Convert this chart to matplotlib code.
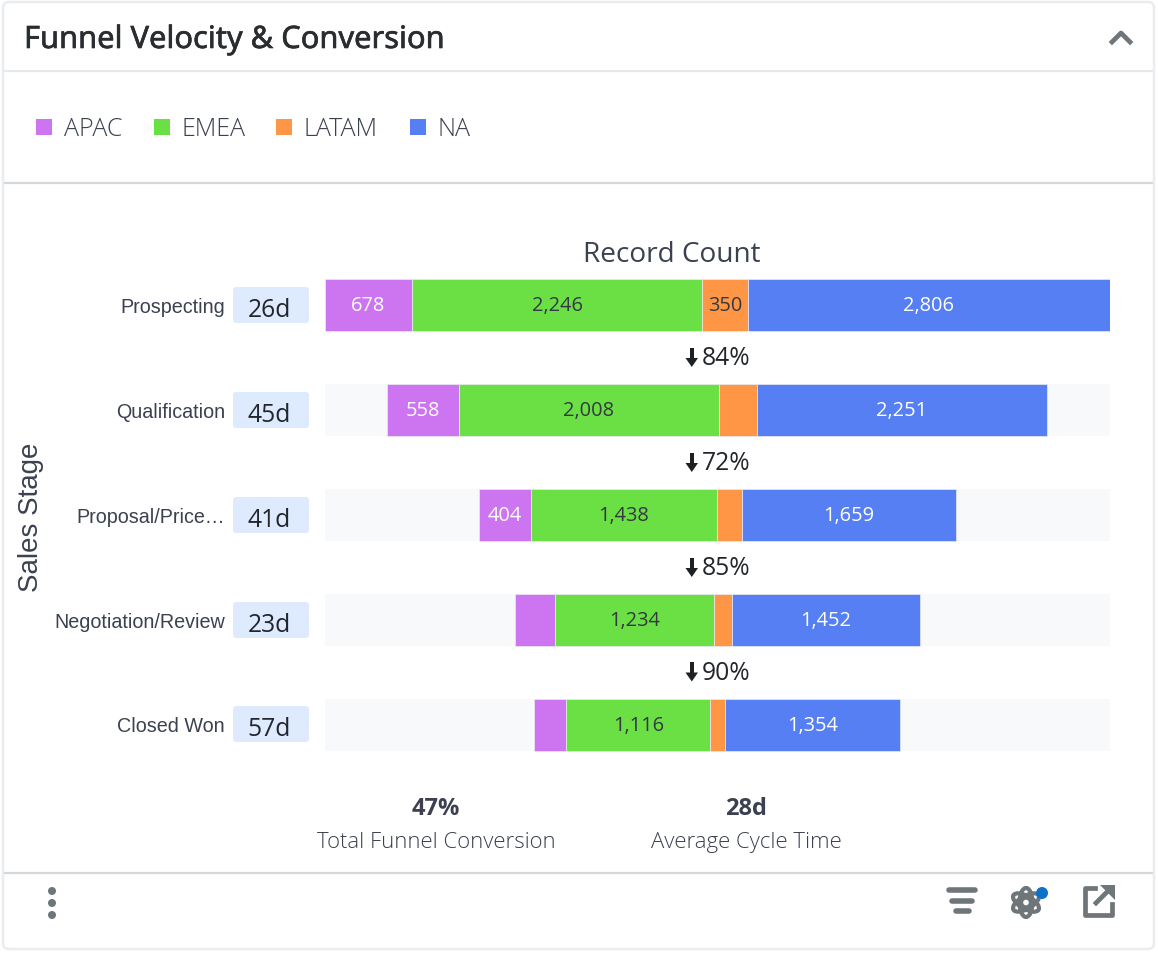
import matplotlib
matplotlib.use('Agg')
import matplotlib.pyplot as plt
import matplotlib.patheffects as pe
from matplotlib.patches import Rectangle, FancyBboxPatch, Circle, Ellipse, Polygon

# data
stages = ['Prospecting', 'Qualification', 'Proposal/Price…', 'Negotiation/Review', 'Closed Won']
days = ['26d', '45d', '41d', '23d', '57d']
conversion = ['84%', '72%', '85%', '90%']
regions = ['APAC', 'EMEA', 'LATAM', 'NA']
apac = [678, 558, 404, 310, 248]
emea = [2246, 2008, 1438, 1234, 1116]
latam = [350, 294, 194, 141, 116]
na = [2806, 2251, 1659, 1452, 1354]
total_conversion = '47%'
avg_cycle = '28d'

colors = ['#cd75f0', '#6be045', '#ff9645', '#557ff3']
label_colors = ['white', '#343941', '#343941', 'white']
GREY = '#6f7679'
DARK = '#3b4150'
W, H = 1158, 954
SANS = 'Open Sans'
min_labelled = 350

fig = plt.figure(figsize=(W / 100, H / 100), dpi=100, facecolor='white')

# full size axes in pixels for the card around the chart
bg = fig.add_axes([0, 0, 1, 1])
bg.set_xlim(0, W)
bg.set_ylim(H, 0)
bg.axis('off')


def hline(y, color='#d5d7d9', lw=1.6):
    bg.plot([4, 1153], [y + 0.5, y + 0.5], color=color, lw=lw, solid_capstyle='butt')


bg.add_patch(FancyBboxPatch((3, 3), 1151, 947, boxstyle='round,pad=0,rounding_size=6',
                            fc='white', ec='#e9edf0', lw=1.8))
hline(71, '#e6eaec')
hline(183)
hline(873)

bg.text(24, 41, 'Funnel Velocity & Conversion', fontsize=22.2, family='Noto Sans',
        color='#2a2d30', va='center',
        path_effects=[pe.withStroke(linewidth=0.45, foreground='#2a2d30')])
bg.plot([1112, 1121, 1130], [43, 34, 43], color=GREY, lw=3.4)

# legend
swatch_x = [36, 154, 276, 410]
for name, c, x in zip(regions, colors, swatch_x):
    bg.add_patch(Rectangle((x, 120), 16, 16, fc=c, ec='none'))
    bg.text(x + 28, 130, name, fontsize=18, family=SANS, weight='light', color=DARK, va='center')

bg.text(672, 255, 'Record Count', fontsize=20.2, family=SANS, color=DARK, ha='center', va='center')
bg.text(31, 517, 'Sales Stage', fontsize=20, family='Liberation Sans', color=DARK,
        rotation=90, ha='center', va='center')

row_y = [306, 411, 516, 621, 725]

# stage names and cycle time badges
for name, d, y in zip(stages, days, row_y):
    bg.text(225, y + 2, name, fontsize=14.2, family='Liberation Sans', color=DARK, ha='right', va='center')
    bg.add_patch(FancyBboxPatch((233, y - 18), 76, 36, boxstyle='round,pad=0,rounding_size=3',
                                fc='#deebff', ec='none'))
    bg.text(269, y + 5, d, fontsize=17.7, family=SANS, color='#22252a', ha='center', va='center')

# conversion between the stages
for pct, y1, y2 in zip(conversion, row_y[:-1], row_y[1:]):
    y = (y1 + y2) / 2 - 1.5
    bg.add_patch(Rectangle((690, y - 8.5), 4, 13, fc='#1e2124', ec='none'))
    bg.add_patch(Polygon([(685.5, y + 2), (698, y + 2), (691.8, y + 11)], fc='#1e2124', ec='none'))
    bg.text(702, y + 2, pct, fontsize=17.7, family=SANS, color='#22252a', va='center')

# summary numbers
for value, name, x in [(total_conversion, 'Total Funnel Conversion', 436), (avg_cycle, 'Average Cycle Time', 746)]:
    bg.text(x, 809, value, fontsize=17, family=SANS, weight='bold', color=DARK, ha='center', va='center')
    bg.text(x, 843, name, fontsize=15.9, family=SANS, weight='light', color=DARK, ha='center', va='center')

# footer icons
for y in [892, 904, 916]:
    bg.add_patch(Circle((52, y), 4, fc=GREY, ec='none'))
for x0, x1, y in [(949, 975, 891), (952, 972, 902), (956, 969, 912)]:
    bg.plot([x0, x1], [y, y], color=GREY, lw=4, solid_capstyle='round')
for angle in [30, 90, 150]:
    bg.add_patch(Ellipse((1026, 903.5), 29, 13, angle=angle, fc='none', ec=GREY, lw=3))
bg.add_patch(Circle((1026, 903.5), 4.5, fc='white', ec=GREY, lw=2.4))
bg.add_patch(Circle((1042, 894), 6, fc='#0a72c9', ec='none'))
bg.plot([1095, 1085, 1085, 1111.5, 1111.5], [888.5, 888.5, 915.5, 915.5, 905], color=GREY, lw=3.4,
        solid_joinstyle='round')
bg.plot([1096, 1108], [904, 892], color=GREY, lw=3.4)
bg.add_patch(Polygon([(1100, 886), (1114.5, 886), (1114.5, 900.5)], fc=GREY, ec='none'))

# funnel, every stage is centred on zero
ax = fig.add_axes([324.6 / W, 1 - 778.5 / H, 785.4 / W, (778.5 - 253.5) / H])
ax.patch.set_alpha(0)
ax.axis('off')
series = [apac, emea, latam, na]
totals = [sum(s[i] for s in series) for i in range(len(stages))]
widest = max(totals)
ax.set_xlim(-widest / 2, widest / 2)
ax.set_ylim(4.5, -0.5)
bar_h = 52 / 105

ax.barh(range(len(stages)), [widest] * len(stages), left=-widest / 2, height=bar_h,
        color='#f8f9fb', edgecolor='none')
lefts = [-t / 2 for t in totals]
for values, c, tc in zip(series, colors, label_colors):
    ax.barh(range(len(stages)), values, left=lefts, height=bar_h, color=c,
            edgecolor='#ecebf2', linewidth=0.5)
    for i, v in enumerate(values):
        if v >= min_labelled:
            ax.text(lefts[i] + v / 2, i, f'{v:,}', fontsize=14.4, family=SANS,
                    color=tc, ha='center', va='center')
    lefts = [l + v for l, v in zip(lefts, values)]

fig.savefig('out.png', dpi=100)
